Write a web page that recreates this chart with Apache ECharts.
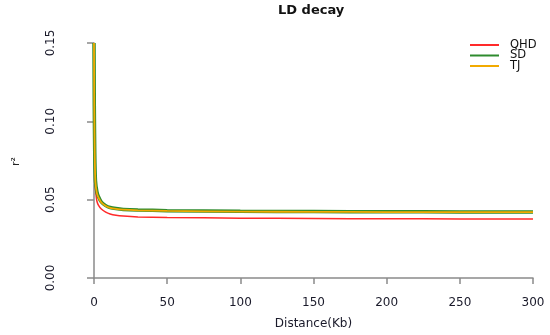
<!DOCTYPE html>
<html><head><meta charset="utf-8">
<script src="https://cdn.jsdelivr.net/npm/echarts@6/dist/echarts.min.js"></script>
<style>html,body{margin:0;padding:0;background:#fff}#c{width:550px;height:335px}</style>
</head><body><div id="c"></div>
<script>
const seriesNames = ['QHD', 'SD', 'TJ'];
const seriesColors = ['#ff2a2a', '#2e8b2e', '#f2aa00'];
const xTicks = [0, 50, 100, 150, 200, 250, 300];
const yTicks = [0.00, 0.05, 0.10, 0.15];
const distQHD = [0, 0.2, 0.5, 1, 1.5, 2, 3, 5, 8, 11, 15, 20, 30, 50, 100, 150, 200, 250, 300];
const r2QHD   = [0.150, 0.100, 0.072, 0.057, 0.052, 0.049, 0.0465, 0.0440, 0.0420, 0.0408, 0.0400, 0.0395, 0.0390, 0.0386, 0.0382, 0.0380, 0.0378, 0.0377, 0.0376];
const distSD  = [0, 0.2, 0.5, 1, 2, 3, 5, 8, 11, 15, 20, 30, 50, 100, 150, 200, 250, 300];
const r2SD    = [0.150, 0.110, 0.080, 0.062, 0.055, 0.052, 0.0485, 0.0462, 0.0450, 0.0443, 0.0438, 0.0434, 0.0430, 0.0426, 0.0424, 0.0423, 0.0422, 0.0421];
const distTJ  = [0, 0.2, 0.5, 1, 2, 3, 5, 8, 11, 15, 20, 30, 50, 100, 150, 200, 250, 300];
const r2TJ    = [0.150, 0.108, 0.078, 0.061, 0.054, 0.0515, 0.0482, 0.0460, 0.0448, 0.0441, 0.0436, 0.0432, 0.0428, 0.0424, 0.0422, 0.0421, 0.0420, 0.0420];

const FONT = 'DejaVu Sans';
const zip = (a, b) => a.map((v, i) => [v, b[i]]);
const chart = echarts.init(document.getElementById('c'), null, {renderer: 'canvas'});
const axisLineStyle = {color: '#8a8a8a', width: 1.5};
chart.setOption({
  animation: false,
  backgroundColor: '#fff',
  grid: {left: 94, right: 17, top: 43, bottom: 57},
  xAxis: {
    type: 'value', min: xTicks[0], max: xTicks[xTicks.length - 1], interval: 50,
    offset: 10,
    axisLine: {show: true, lineStyle: axisLineStyle},
    axisTick: {show: true, length: 6, lineStyle: axisLineStyle},
    axisLabel: {margin: 9, color: '#1a1a2a', fontFamily: FONT, fontSize: 12},
    splitLine: {show: false},
    name: 'Distance(Kb)', nameLocation: 'middle', nameGap: 30,
    nameTextStyle: {color: '#1a1a2a', fontFamily: FONT, fontSize: 12}
  },
  yAxis: {
    type: 'value', min: yTicks[0], max: yTicks[yTicks.length - 1], interval: 0.05,
    offset: 17,
    axisLine: {show: true, lineStyle: axisLineStyle},
    axisTick: {show: true, length: 7, lineStyle: axisLineStyle},
    axisLabel: {margin: 20, rotate: 90, color: '#1a1a2a', fontFamily: FONT, fontSize: 12,
      formatter: v => v.toFixed(2)},
    splitLine: {show: false}
  },
  legend: {
    orient: 'vertical', left: 465, top: 34, icon: 'rect', itemWidth: 29, itemHeight: 2,
    itemGap: -1.5,
    textStyle: {color: '#111', fontFamily: FONT, fontSize: 11.5, lineHeight: 10.5, padding: [0, 0, 0, 6]},
    data: seriesNames
  },
  graphic: [
    {type: 'text', left: 318 - 40, top: 4, style: {text: 'LD decay', fontFamily: FONT, fontWeight: 'bold', fontSize: 13, fill: '#111'}},
    {type: 'text', x: 11, y: 166, rotation: Math.PI / 2, style: {text: 'r\u00b2', fontFamily: FONT, fontSize: 11, fill: '#222'}}
  ],
  series: [
    {name: seriesNames[0], type: 'line', data: zip(distQHD, r2QHD), showSymbol: false, smooth: 0.2,
      lineStyle: {color: seriesColors[0], width: 1.5}, itemStyle: {color: seriesColors[0]}},
    {name: seriesNames[1], type: 'line', data: zip(distSD, r2SD), showSymbol: false, smooth: 0.2,
      lineStyle: {color: seriesColors[1], width: 3.5}, itemStyle: {color: seriesColors[1]}},
    {name: seriesNames[2], type: 'line', data: zip(distTJ, r2TJ), showSymbol: false, smooth: 0.2,
      lineStyle: {color: seriesColors[2], width: 1.8}, itemStyle: {color: seriesColors[2]}}
  ]
});
</script></body></html>
